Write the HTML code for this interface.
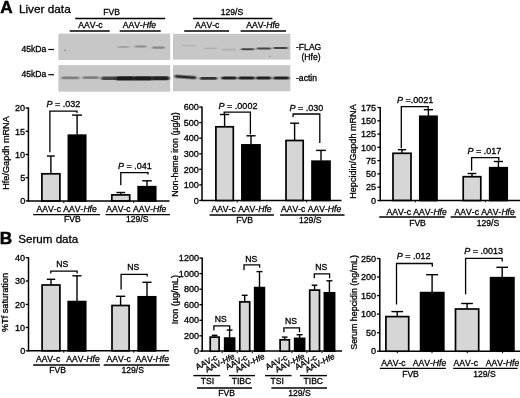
<!DOCTYPE html>
<html><head><meta charset="utf-8"><title>Figure</title>
<style>
html,body{margin:0;padding:0;background:#fff;}
svg{display:block;font-family:"Liberation Sans",Arial,Helvetica,sans-serif;fill:#000;}
text{stroke:#000;stroke-width:0.3px;font-kerning:none;}
</style></head>
<body>
<svg width="520" height="398" viewBox="0 0 520 398">
<defs>
<filter id="b1" x="-50%" y="-100%" width="200%" height="300%"><feGaussianBlur stdDeviation="0.6"/></filter>
<filter id="b2" x="-20%" y="-150%" width="140%" height="400%"><feGaussianBlur stdDeviation="1.1 0.75"/></filter>
</defs>
<rect x="0" y="0" width="520" height="398" fill="#fff"/>
<text x="0.2" y="13.1" font-size="17.2" font-weight="bold" style="stroke-width:0.5px">A</text>
<text x="18.9" y="12.8" font-size="11.8">Liver data</text>
<text x="-0.3" y="243.6" font-size="17.2" font-weight="bold" style="stroke-width:0.5px">B</text>
<text x="18.3" y="243.4" font-size="11.6">Serum data</text>
<text x="111.6" y="15.1" text-anchor="middle" font-size="8.6" >FVB</text>
<line x1="75.2" y1="18.4" x2="165.2" y2="18.4" stroke="#000" stroke-width="1.5"/>
<text x="90.5" y="27.7" text-anchor="middle" font-size="8.6" >AAV-c</text>
<text x="139.4" y="27.7" text-anchor="middle" font-size="8.6" >AAV-<tspan font-style="italic">Hfe</tspan></text>
<line x1="69.7" y1="30.9" x2="109.7" y2="30.9" stroke="#000" stroke-width="1.5"/>
<line x1="119.7" y1="30.9" x2="160.7" y2="30.9" stroke="#000" stroke-width="1.5"/>
<text x="232.0" y="15.1" text-anchor="middle" font-size="8.6" >129/S</text>
<line x1="193.0" y1="18.4" x2="272.4" y2="18.4" stroke="#000" stroke-width="1.5"/>
<text x="207.2" y="27.7" text-anchor="middle" font-size="8.6" >AAV-c</text>
<text x="262.9" y="27.7" text-anchor="middle" font-size="8.6" >AAV-<tspan font-style="italic">Hfe</tspan></text>
<line x1="184.2" y1="30.9" x2="229.0" y2="30.9" stroke="#000" stroke-width="1.5"/>
<line x1="240.6" y1="30.9" x2="286.0" y2="30.9" stroke="#000" stroke-width="1.5"/>
<text x="21.4" y="51.6" text-anchor="start" font-size="8.6" >45kDa</text>
<text x="21.4" y="76.8" text-anchor="start" font-size="8.6" >45kDa</text>
<line x1="48.3" y1="49.5" x2="54.0" y2="49.5" stroke="#000" stroke-width="1.2"/>
<line x1="48.3" y1="74.7" x2="54.0" y2="74.7" stroke="#000" stroke-width="1.2"/>
<text x="296.0" y="49.6" text-anchor="start" font-size="8.6" >-FLAG</text>
<text x="301.5" y="59.7" text-anchor="start" font-size="8.6" >(Hfe)</text>
<text x="296.0" y="80.6" text-anchor="start" font-size="8.6" >-actin</text>
<rect x="58.4" y="33.6" width="111.8" height="26.4" fill="#c7c7c7"/>
<rect x="58.4" y="65.1" width="111.8" height="26.6" fill="#c7c7c7"/>
<rect x="173" y="33.8" width="117.3" height="25.8" fill="#c7c7c7"/>
<rect x="173" y="65.1" width="117.3" height="26.2" fill="#c7c7c7"/>
<rect x="117.5" y="46.0" width="11.5" height="1.8" rx="0.9" fill="#8a8a8a" opacity="0.65" filter="url(#b2)"/>
<rect x="134.8" y="45.6" width="11.6" height="2.0" rx="1.0" fill="#777" opacity="0.75" filter="url(#b2)"/>
<rect x="152.0" y="46.5" width="12.8" height="2.2" rx="1.1" fill="#777" opacity="0.8" filter="url(#b2)"/>
<circle cx="65.2" cy="50.3" r="0.9" fill="#888" filter="url(#b1)"/>
<rect x="61.5" y="76.5" width="18.0" height="2.8" rx="1.4" fill="#7c7c7c" opacity="0.95" filter="url(#b2)"/>
<rect x="82.5" y="76.3" width="16.5" height="2.8" rx="1.4" fill="#7c7c7c" opacity="0.95" filter="url(#b2)"/>
<rect x="101.0" y="76.5" width="16.5" height="3.6" rx="1.8" fill="#454545" opacity="1" filter="url(#b2)"/>
<rect x="115.5" y="76.2" width="19.5" height="4.4" rx="2.2" fill="#1e1e1e" opacity="1" filter="url(#b2)"/>
<rect x="133.0" y="76.2" width="20.0" height="4.4" rx="2.2" fill="#1e1e1e" opacity="1" filter="url(#b2)"/>
<rect x="151.0" y="76.2" width="18.4" height="4.0" rx="2.0" fill="#222" opacity="1" filter="url(#b2)"/>
<rect x="182.0" y="44.8" width="14.0" height="1.6" rx="0.8" fill="#aaa" opacity="0.6" filter="url(#b2)"/>
<rect x="204.0" y="47.6" width="13.0" height="1.6" rx="0.8" fill="#a8a8a8" opacity="0.7" filter="url(#b2)"/>
<rect x="222.0" y="48.8" width="14.0" height="1.6" rx="0.8" fill="#a8a8a8" opacity="0.7" filter="url(#b2)"/>
<rect x="241.0" y="48.2" width="13.2" height="2.0" rx="1.0" fill="#444" opacity="1" filter="url(#b2)"/>
<rect x="256.6" y="47.4" width="14.4" height="2.0" rx="1.0" fill="#444" opacity="1" filter="url(#b2)"/>
<rect x="273.4" y="47.0" width="14.4" height="2.0" rx="1.0" fill="#444" opacity="1" filter="url(#b2)"/>
<circle cx="270" cy="56.5" r="0.8" fill="#999" filter="url(#b1)"/>
<g transform="rotate(4 185 77)">
<rect x="174.6" y="75.6" width="21.8" height="2.8" rx="1.4" fill="#282828" opacity="1" filter="url(#b2)"/>
</g>
<rect x="199.8" y="77.0" width="17.4" height="2.8" rx="1.4" fill="#333" opacity="1" filter="url(#b2)"/>
<rect x="221.2" y="76.4" width="15.6" height="3.2" rx="1.6" fill="#242424" opacity="1" filter="url(#b2)"/>
<rect x="238.2" y="76.4" width="16.6" height="3.2" rx="1.6" fill="#242424" opacity="1" filter="url(#b2)"/>
<rect x="255.8" y="76.4" width="15.6" height="3.2" rx="1.6" fill="#242424" opacity="1" filter="url(#b2)"/>
<rect x="273.2" y="76.4" width="16.2" height="3.2" rx="1.6" fill="#242424" opacity="1" filter="url(#b2)"/>
<line x1="28.4" y1="107.4" x2="28.4" y2="201.6" stroke="#000" stroke-width="1.5"/>
<line x1="27.7" y1="200.9" x2="169.5" y2="200.9" stroke="#000" stroke-width="1.5"/>
<line x1="25.6" y1="108.0" x2="28.4" y2="108.0" stroke="#000" stroke-width="1.3"/>
<text x="25.2" y="111.2" text-anchor="end" font-size="9.1" >20</text>
<line x1="25.6" y1="131.3" x2="28.4" y2="131.3" stroke="#000" stroke-width="1.3"/>
<text x="25.2" y="134.5" text-anchor="end" font-size="9.1" >15</text>
<line x1="25.6" y1="154.5" x2="28.4" y2="154.5" stroke="#000" stroke-width="1.3"/>
<text x="25.2" y="157.7" text-anchor="end" font-size="9.1" >10</text>
<line x1="25.6" y1="177.7" x2="28.4" y2="177.7" stroke="#000" stroke-width="1.3"/>
<text x="25.2" y="180.8" text-anchor="end" font-size="9.1" >5</text>
<line x1="25.6" y1="200.9" x2="28.4" y2="200.9" stroke="#000" stroke-width="1.3"/>
<text x="25.2" y="204.1" text-anchor="end" font-size="9.1" >0</text>
<line x1="50.9" y1="156.0" x2="50.9" y2="173.5" stroke="#000" stroke-width="1.4"/>
<line x1="47.0" y1="156.0" x2="54.8" y2="156.0" stroke="#000" stroke-width="1.4"/>
<rect x="41.9" y="173.8" width="18.0" height="27.1" fill="#d6d6d6" stroke="#000" stroke-width="1.7"/>
<line x1="77.1" y1="115.1" x2="77.1" y2="134.8" stroke="#000" stroke-width="1.4"/>
<line x1="72.1" y1="115.1" x2="82.1" y2="115.1" stroke="#000" stroke-width="1.4"/>
<rect x="68.4" y="135.2" width="17.3" height="65.8" fill="#000" stroke="#000" stroke-width="1.7"/>
<line x1="120.8" y1="192.5" x2="120.8" y2="194.6" stroke="#000" stroke-width="1.4"/>
<line x1="116.4" y1="192.5" x2="125.2" y2="192.5" stroke="#000" stroke-width="1.4"/>
<rect x="111.8" y="194.9" width="17.9" height="6.0" fill="#d6d6d6" stroke="#000" stroke-width="1.7"/>
<line x1="147.0" y1="180.8" x2="147.0" y2="186.3" stroke="#000" stroke-width="1.4"/>
<line x1="142.2" y1="180.8" x2="151.8" y2="180.8" stroke="#000" stroke-width="1.4"/>
<rect x="138.2" y="186.7" width="17.5" height="14.2" fill="#000" stroke="#000" stroke-width="1.7"/>
<polyline points="49.9,152.3 49.9,111.1 77.0,111.1 77.0,112.9" fill="none" stroke="#000" stroke-width="1.3"/>
<polyline points="120.8,185.2 120.8,172.7 148.0,172.7 148.0,174.6" fill="none" stroke="#000" stroke-width="1.3"/>
<text x="63.4" y="107.1" text-anchor="middle" font-size="8.6" ><tspan font-style="italic" font-size="9.0">P</tspan><tspan font-size="9.0"> = .032</tspan></text>
<text x="134.8" y="168.7" text-anchor="middle" font-size="8.6" ><tspan font-style="italic" font-size="9.0">P</tspan><tspan font-size="9.0"> = .041</tspan></text>
<text x="66.7" y="211.7" text-anchor="middle" font-size="8.6" >AAV-c AAV-<tspan font-style="italic">Hfe</tspan></text>
<text x="136.3" y="211.7" text-anchor="middle" font-size="8.6" >AAV-c AAV-<tspan font-style="italic">Hfe</tspan></text>
<line x1="33.2" y1="214.6" x2="100.0" y2="214.6" stroke="#000" stroke-width="1.4"/>
<line x1="105.5" y1="214.6" x2="170.0" y2="214.6" stroke="#000" stroke-width="1.4"/>
<text x="72.4" y="222.4" text-anchor="middle" font-size="8.6" >FVB</text>
<text x="137.3" y="222.2" text-anchor="middle" font-size="8.6" >129/S</text>
<line x1="63.8" y1="201.0" x2="63.8" y2="203.0" stroke="#000" stroke-width="1"/>
<line x1="133.8" y1="201.0" x2="133.8" y2="203.0" stroke="#000" stroke-width="1"/>
<text transform="translate(8.8,153.0) rotate(-90)" text-anchor="middle" font-size="9.15">Hfe/Gapdh mRNA</text>
<line x1="202.0" y1="106.5" x2="202.0" y2="201.1" stroke="#000" stroke-width="1.5"/>
<line x1="201.3" y1="200.4" x2="341.5" y2="200.4" stroke="#000" stroke-width="1.5"/>
<line x1="199.2" y1="107.1" x2="202.0" y2="107.1" stroke="#000" stroke-width="1.3"/>
<text x="198.9" y="110.2" text-anchor="end" font-size="9.1" >600</text>
<line x1="199.2" y1="122.6" x2="202.0" y2="122.6" stroke="#000" stroke-width="1.3"/>
<text x="198.9" y="125.8" text-anchor="end" font-size="9.1" >500</text>
<line x1="199.2" y1="138.2" x2="202.0" y2="138.2" stroke="#000" stroke-width="1.3"/>
<text x="198.9" y="141.3" text-anchor="end" font-size="9.1" >400</text>
<line x1="199.2" y1="153.8" x2="202.0" y2="153.8" stroke="#000" stroke-width="1.3"/>
<text x="198.9" y="157.0" text-anchor="end" font-size="9.1" >300</text>
<line x1="199.2" y1="169.3" x2="202.0" y2="169.3" stroke="#000" stroke-width="1.3"/>
<text x="198.9" y="172.5" text-anchor="end" font-size="9.1" >200</text>
<line x1="199.2" y1="184.9" x2="202.0" y2="184.9" stroke="#000" stroke-width="1.3"/>
<text x="198.9" y="188.1" text-anchor="end" font-size="9.1" >100</text>
<line x1="199.2" y1="200.4" x2="202.0" y2="200.4" stroke="#000" stroke-width="1.3"/>
<text x="198.9" y="203.6" text-anchor="end" font-size="9.1" >0</text>
<line x1="224.6" y1="114.5" x2="224.6" y2="126.4" stroke="#000" stroke-width="1.4"/>
<line x1="219.9" y1="114.5" x2="229.3" y2="114.5" stroke="#000" stroke-width="1.4"/>
<rect x="215.9" y="126.8" width="17.4" height="73.7" fill="#d6d6d6" stroke="#000" stroke-width="1.7"/>
<line x1="251.0" y1="135.8" x2="251.0" y2="144.6" stroke="#000" stroke-width="1.4"/>
<line x1="246.4" y1="135.8" x2="255.6" y2="135.8" stroke="#000" stroke-width="1.4"/>
<rect x="241.9" y="144.9" width="18.1" height="55.5" fill="#000" stroke="#000" stroke-width="1.7"/>
<line x1="294.6" y1="123.2" x2="294.6" y2="140.2" stroke="#000" stroke-width="1.4"/>
<line x1="290.1" y1="123.2" x2="299.1" y2="123.2" stroke="#000" stroke-width="1.4"/>
<rect x="286.0" y="140.5" width="17.2" height="59.9" fill="#d6d6d6" stroke="#000" stroke-width="1.7"/>
<line x1="321.0" y1="150.4" x2="321.0" y2="160.8" stroke="#000" stroke-width="1.4"/>
<line x1="316.1" y1="150.4" x2="325.9" y2="150.4" stroke="#000" stroke-width="1.4"/>
<rect x="312.0" y="161.2" width="18.0" height="39.2" fill="#000" stroke="#000" stroke-width="1.7"/>
<polyline points="224.2,113.9 224.2,112.1 250.4,112.1 250.4,134.2" fill="none" stroke="#000" stroke-width="1.3"/>
<polyline points="293.1,117.0 293.1,114.0 319.8,114.0 319.8,142.9" fill="none" stroke="#000" stroke-width="1.3"/>
<text x="238.0" y="108.7" text-anchor="middle" font-size="8.6" ><tspan font-style="italic" font-size="9.0">P</tspan><tspan font-size="9.0"> = .0002</tspan></text>
<text x="306.3" y="110.7" text-anchor="middle" font-size="8.6" ><tspan font-style="italic" font-size="9.0">P</tspan><tspan font-size="9.0"> = .030</tspan></text>
<text x="241.5" y="212.3" text-anchor="middle" font-size="8.6" >AAV-c AAV-<tspan font-style="italic">Hfe</tspan></text>
<text x="311.1" y="212.3" text-anchor="middle" font-size="8.6" >AAV-c AAV-<tspan font-style="italic">Hfe</tspan></text>
<line x1="209.5" y1="215.0" x2="273.9" y2="215.0" stroke="#000" stroke-width="1.4"/>
<line x1="280.1" y1="215.0" x2="344.5" y2="215.0" stroke="#000" stroke-width="1.4"/>
<text x="244.7" y="223.0" text-anchor="middle" font-size="8.6" >FVB</text>
<text x="310.3" y="223.0" text-anchor="middle" font-size="8.6" >129/S</text>
<line x1="237.2" y1="200.5" x2="237.2" y2="202.5" stroke="#000" stroke-width="1"/>
<line x1="306.7" y1="200.5" x2="306.7" y2="202.5" stroke="#000" stroke-width="1"/>
<text transform="translate(177.6,154.5) rotate(-90)" text-anchor="middle" font-size="8.9">Non-heme iron (µg/g)</text>
<line x1="380.2" y1="106.9" x2="380.2" y2="201.2" stroke="#000" stroke-width="1.5"/>
<line x1="379.5" y1="200.5" x2="520.0" y2="200.5" stroke="#000" stroke-width="1.5"/>
<line x1="377.4" y1="107.5" x2="380.2" y2="107.5" stroke="#000" stroke-width="1.3"/>
<text x="376.1" y="110.7" text-anchor="end" font-size="9.1" >175</text>
<line x1="377.4" y1="120.8" x2="380.2" y2="120.8" stroke="#000" stroke-width="1.3"/>
<text x="376.1" y="124.0" text-anchor="end" font-size="9.1" >150</text>
<line x1="377.4" y1="134.1" x2="380.2" y2="134.1" stroke="#000" stroke-width="1.3"/>
<text x="376.1" y="137.2" text-anchor="end" font-size="9.1" >125</text>
<line x1="377.4" y1="147.3" x2="380.2" y2="147.3" stroke="#000" stroke-width="1.3"/>
<text x="376.1" y="150.5" text-anchor="end" font-size="9.1" >100</text>
<line x1="377.4" y1="160.6" x2="380.2" y2="160.6" stroke="#000" stroke-width="1.3"/>
<text x="376.1" y="163.8" text-anchor="end" font-size="9.1" >75</text>
<line x1="377.4" y1="173.9" x2="380.2" y2="173.9" stroke="#000" stroke-width="1.3"/>
<text x="376.1" y="177.1" text-anchor="end" font-size="9.1" >50</text>
<line x1="377.4" y1="187.2" x2="380.2" y2="187.2" stroke="#000" stroke-width="1.3"/>
<text x="376.1" y="190.3" text-anchor="end" font-size="9.1" >25</text>
<line x1="377.4" y1="200.5" x2="380.2" y2="200.5" stroke="#000" stroke-width="1.3"/>
<text x="376.1" y="203.7" text-anchor="end" font-size="9.1" >0</text>
<line x1="402.0" y1="149.7" x2="402.0" y2="153.0" stroke="#000" stroke-width="1.4"/>
<line x1="397.9" y1="149.7" x2="406.1" y2="149.7" stroke="#000" stroke-width="1.4"/>
<rect x="393.0" y="153.3" width="18.0" height="47.1" fill="#d6d6d6" stroke="#000" stroke-width="1.7"/>
<line x1="428.4" y1="109.7" x2="428.4" y2="116.0" stroke="#000" stroke-width="1.4"/>
<line x1="423.8" y1="109.7" x2="433.0" y2="109.7" stroke="#000" stroke-width="1.4"/>
<rect x="419.8" y="116.3" width="17.2" height="84.2" fill="#000" stroke="#000" stroke-width="1.7"/>
<line x1="472.0" y1="173.5" x2="472.0" y2="176.3" stroke="#000" stroke-width="1.4"/>
<line x1="467.6" y1="173.5" x2="476.4" y2="173.5" stroke="#000" stroke-width="1.4"/>
<rect x="463.2" y="176.7" width="17.6" height="23.8" fill="#d6d6d6" stroke="#000" stroke-width="1.7"/>
<line x1="498.4" y1="161.5" x2="498.4" y2="167.3" stroke="#000" stroke-width="1.4"/>
<line x1="493.8" y1="161.5" x2="503.0" y2="161.5" stroke="#000" stroke-width="1.4"/>
<rect x="489.7" y="167.7" width="17.5" height="32.8" fill="#000" stroke="#000" stroke-width="1.7"/>
<polyline points="401.3,148.3 401.3,106.7 428.2,106.7 428.2,109.1" fill="none" stroke="#000" stroke-width="1.3"/>
<polyline points="471.6,170.8 471.6,157.7 498.8,157.7 498.8,160.8" fill="none" stroke="#000" stroke-width="1.3"/>
<text x="415.2" y="102.6" text-anchor="middle" font-size="8.6" ><tspan font-style="italic" font-size="9.0">P</tspan><tspan font-size="9.0"> =.0021</tspan></text>
<text x="484.3" y="153.8" text-anchor="middle" font-size="8.6" ><tspan font-style="italic" font-size="9.0">P</tspan><tspan font-size="9.0"> = .017</tspan></text>
<text x="416.7" y="214.8" text-anchor="middle" font-size="8.6" >AAV-c AAV-<tspan font-style="italic">Hfe</tspan></text>
<text x="484.7" y="214.8" text-anchor="middle" font-size="8.6" >AAV-c AAV-<tspan font-style="italic">Hfe</tspan></text>
<line x1="379.2" y1="217.0" x2="444.8" y2="217.0" stroke="#000" stroke-width="1.4"/>
<line x1="450.6" y1="217.0" x2="516.0" y2="217.0" stroke="#000" stroke-width="1.4"/>
<text x="417.5" y="225.8" text-anchor="middle" font-size="8.6" >FVB</text>
<text x="488.0" y="225.8" text-anchor="middle" font-size="8.6" >129/S</text>
<line x1="415.4" y1="200.3" x2="415.4" y2="202.3" stroke="#000" stroke-width="1"/>
<line x1="485.4" y1="200.3" x2="485.4" y2="202.3" stroke="#000" stroke-width="1"/>
<text transform="translate(355.7,151.5) rotate(-90)" text-anchor="middle" font-size="9.1">Hepcidin/Gapdh mRNA</text>
<line x1="28.5" y1="257.1" x2="28.5" y2="351.5" stroke="#000" stroke-width="1.5"/>
<line x1="27.8" y1="350.8" x2="168.9" y2="350.8" stroke="#000" stroke-width="1.5"/>
<line x1="25.7" y1="257.7" x2="28.5" y2="257.7" stroke="#000" stroke-width="1.3"/>
<text x="25.2" y="260.8" text-anchor="end" font-size="9.1" >40</text>
<line x1="25.7" y1="281.0" x2="28.5" y2="281.0" stroke="#000" stroke-width="1.3"/>
<text x="25.2" y="284.1" text-anchor="end" font-size="9.1" >30</text>
<line x1="25.7" y1="304.4" x2="28.5" y2="304.4" stroke="#000" stroke-width="1.3"/>
<text x="25.2" y="307.5" text-anchor="end" font-size="9.1" >20</text>
<line x1="25.7" y1="327.5" x2="28.5" y2="327.5" stroke="#000" stroke-width="1.3"/>
<text x="25.2" y="330.6" text-anchor="end" font-size="9.1" >10</text>
<line x1="25.7" y1="350.8" x2="28.5" y2="350.8" stroke="#000" stroke-width="1.3"/>
<text x="25.2" y="353.9" text-anchor="end" font-size="9.1" >0</text>
<line x1="51.0" y1="279.3" x2="51.0" y2="284.6" stroke="#000" stroke-width="1.4"/>
<line x1="46.8" y1="279.3" x2="55.2" y2="279.3" stroke="#000" stroke-width="1.4"/>
<rect x="42.1" y="285.0" width="17.8" height="65.8" fill="#d6d6d6" stroke="#000" stroke-width="1.7"/>
<line x1="77.0" y1="275.8" x2="77.0" y2="301.2" stroke="#000" stroke-width="1.4"/>
<line x1="72.4" y1="275.8" x2="81.6" y2="275.8" stroke="#000" stroke-width="1.4"/>
<rect x="68.2" y="301.6" width="17.5" height="49.3" fill="#000" stroke="#000" stroke-width="1.7"/>
<line x1="120.6" y1="296.3" x2="120.6" y2="305.1" stroke="#000" stroke-width="1.4"/>
<line x1="116.0" y1="296.3" x2="125.2" y2="296.3" stroke="#000" stroke-width="1.4"/>
<rect x="112.0" y="305.5" width="17.1" height="45.3" fill="#d6d6d6" stroke="#000" stroke-width="1.7"/>
<line x1="147.0" y1="282.3" x2="147.0" y2="296.4" stroke="#000" stroke-width="1.4"/>
<line x1="142.4" y1="282.3" x2="151.6" y2="282.3" stroke="#000" stroke-width="1.4"/>
<rect x="138.2" y="296.8" width="17.5" height="54.1" fill="#000" stroke="#000" stroke-width="1.7"/>
<polyline points="50.8,273.6 50.8,271.2 77.1,271.2 77.1,273.6" fill="none" stroke="#000" stroke-width="1.3"/>
<polyline points="121.1,289.4 121.1,274.4 147.1,274.4 147.1,276.5" fill="none" stroke="#000" stroke-width="1.3"/>
<text x="62.2" y="267.0" text-anchor="middle" font-size="8.6" >NS</text>
<text x="133.2" y="270.0" text-anchor="middle" font-size="8.6" >NS</text>
<text x="48.1" y="362.4" text-anchor="middle" font-size="8.6" >AAV-c</text>
<text x="83.0" y="362.4" text-anchor="middle" font-size="8.6" >AAV-<tspan font-style="italic">Hfe</tspan></text>
<text x="118.7" y="362.4" text-anchor="middle" font-size="8.6" >AAV-c</text>
<text x="152.2" y="362.4" text-anchor="middle" font-size="8.6" >AAV-<tspan font-style="italic">Hfe</tspan></text>
<line x1="33.2" y1="365.0" x2="100.0" y2="365.0" stroke="#000" stroke-width="1.4"/>
<line x1="103.7" y1="365.0" x2="169.5" y2="365.0" stroke="#000" stroke-width="1.4"/>
<text x="57.7" y="373.0" text-anchor="middle" font-size="8.6" >FVB</text>
<text x="132.7" y="372.8" text-anchor="middle" font-size="8.6" >129/S</text>
<line x1="63.8" y1="350.7" x2="63.8" y2="352.7" stroke="#000" stroke-width="1"/>
<line x1="133.8" y1="350.7" x2="133.8" y2="352.7" stroke="#000" stroke-width="1"/>
<text transform="translate(8.1,302.5) rotate(-90)" text-anchor="middle" font-size="9.2">%Tf saturation</text>
<line x1="202.2" y1="257.5" x2="202.2" y2="351.8" stroke="#000" stroke-width="1.5"/>
<line x1="201.5" y1="351.1" x2="342.1" y2="351.1" stroke="#000" stroke-width="1.5"/>
<line x1="199.4" y1="258.1" x2="202.2" y2="258.1" stroke="#000" stroke-width="1.3"/>
<text x="199.1" y="261.2" text-anchor="end" font-size="9.1" >1200</text>
<line x1="199.4" y1="273.6" x2="202.2" y2="273.6" stroke="#000" stroke-width="1.3"/>
<text x="199.1" y="276.8" text-anchor="end" font-size="9.1" >1000</text>
<line x1="199.4" y1="289.2" x2="202.2" y2="289.2" stroke="#000" stroke-width="1.3"/>
<text x="199.1" y="292.3" text-anchor="end" font-size="9.1" >800</text>
<line x1="199.4" y1="304.7" x2="202.2" y2="304.7" stroke="#000" stroke-width="1.3"/>
<text x="199.1" y="307.8" text-anchor="end" font-size="9.1" >600</text>
<line x1="199.4" y1="320.3" x2="202.2" y2="320.3" stroke="#000" stroke-width="1.3"/>
<text x="199.1" y="323.4" text-anchor="end" font-size="9.1" >400</text>
<line x1="199.4" y1="335.8" x2="202.2" y2="335.8" stroke="#000" stroke-width="1.3"/>
<text x="199.1" y="338.9" text-anchor="end" font-size="9.1" >200</text>
<line x1="199.4" y1="351.1" x2="202.2" y2="351.1" stroke="#000" stroke-width="1.3"/>
<text x="199.1" y="354.2" text-anchor="end" font-size="9.1" >0</text>
<line x1="214.6" y1="335.3" x2="214.6" y2="336.7" stroke="#000" stroke-width="1.4"/>
<line x1="211.8" y1="335.3" x2="217.4" y2="335.3" stroke="#000" stroke-width="1.4"/>
<rect x="210.2" y="337.1" width="8.9" height="14.1" fill="#d6d6d6" stroke="#000" stroke-width="1.7"/>
<line x1="229.6" y1="330.1" x2="229.6" y2="337.7" stroke="#000" stroke-width="1.4"/>
<line x1="226.7" y1="330.1" x2="232.5" y2="330.1" stroke="#000" stroke-width="1.4"/>
<rect x="224.7" y="338.1" width="9.9" height="13.1" fill="#000" stroke="#000" stroke-width="1.7"/>
<line x1="244.7" y1="295.3" x2="244.7" y2="301.5" stroke="#000" stroke-width="1.4"/>
<line x1="241.8" y1="295.3" x2="247.6" y2="295.3" stroke="#000" stroke-width="1.4"/>
<rect x="239.8" y="301.9" width="9.9" height="49.3" fill="#d6d6d6" stroke="#000" stroke-width="1.7"/>
<line x1="259.5" y1="271.6" x2="259.5" y2="287.2" stroke="#000" stroke-width="1.4"/>
<line x1="256.5" y1="271.6" x2="262.5" y2="271.6" stroke="#000" stroke-width="1.4"/>
<rect x="254.7" y="287.6" width="9.7" height="63.6" fill="#000" stroke="#000" stroke-width="1.7"/>
<line x1="284.7" y1="337.1" x2="284.7" y2="339.4" stroke="#000" stroke-width="1.4"/>
<line x1="281.9" y1="337.1" x2="287.5" y2="337.1" stroke="#000" stroke-width="1.4"/>
<rect x="280.1" y="339.8" width="9.3" height="11.4" fill="#d6d6d6" stroke="#000" stroke-width="1.7"/>
<line x1="299.6" y1="334.7" x2="299.6" y2="338.0" stroke="#000" stroke-width="1.4"/>
<line x1="296.6" y1="334.7" x2="302.6" y2="334.7" stroke="#000" stroke-width="1.4"/>
<rect x="294.7" y="338.4" width="9.9" height="12.8" fill="#000" stroke="#000" stroke-width="1.7"/>
<line x1="314.6" y1="285.2" x2="314.6" y2="289.7" stroke="#000" stroke-width="1.4"/>
<line x1="311.7" y1="285.2" x2="317.4" y2="285.2" stroke="#000" stroke-width="1.4"/>
<rect x="309.7" y="290.1" width="9.8" height="61.1" fill="#d6d6d6" stroke="#000" stroke-width="1.7"/>
<line x1="329.4" y1="280.8" x2="329.4" y2="292.4" stroke="#000" stroke-width="1.4"/>
<line x1="326.4" y1="280.8" x2="332.4" y2="280.8" stroke="#000" stroke-width="1.4"/>
<rect x="324.4" y="292.8" width="10.2" height="58.4" fill="#000" stroke="#000" stroke-width="1.7"/>
<polyline points="213.9,330.6 213.9,325.8 229.7,325.8 229.7,330.2" fill="none" stroke="#000" stroke-width="1.3"/>
<polyline points="244.0,270.2 244.0,264.9 259.6,264.9 259.6,267.8" fill="none" stroke="#000" stroke-width="1.3"/>
<polyline points="283.9,332.2 283.9,327.8 299.5,327.8 299.5,332.2" fill="none" stroke="#000" stroke-width="1.3"/>
<polyline points="314.3,278.2 314.3,273.8 329.6,273.8 329.6,278.2" fill="none" stroke="#000" stroke-width="1.3"/>
<text x="220.8" y="322.0" text-anchor="middle" font-size="8.6" >NS</text>
<text x="251.2" y="261.5" text-anchor="middle" font-size="8.6" >NS</text>
<text x="290.9" y="323.9" text-anchor="middle" font-size="8.6" >NS</text>
<text x="321.2" y="270.3" text-anchor="middle" font-size="8.6" >NS</text>
<text transform="translate(218.0,359.5) rotate(-27)" text-anchor="end" font-size="8.2">AAV-c</text>
<text transform="translate(235.3,358.2) rotate(-27)" text-anchor="end" font-size="8.2">AAV-<tspan font-style="italic">Hfe</tspan></text>
<text transform="translate(248.0,359.5) rotate(-27)" text-anchor="end" font-size="8.2">AAV-c</text>
<text transform="translate(265.3,358.2) rotate(-27)" text-anchor="end" font-size="8.2">AAV-<tspan font-style="italic">Hfe</tspan></text>
<text transform="translate(287.9,359.5) rotate(-27)" text-anchor="end" font-size="8.2">AAV-c</text>
<text transform="translate(305.3,358.2) rotate(-27)" text-anchor="end" font-size="8.2">AAV-<tspan font-style="italic">Hfe</tspan></text>
<text transform="translate(317.5,359.5) rotate(-27)" text-anchor="end" font-size="8.2">AAV-c</text>
<text transform="translate(335.3,358.2) rotate(-27)" text-anchor="end" font-size="8.2">AAV-<tspan font-style="italic">Hfe</tspan></text>
<line x1="193.4" y1="375.6" x2="220.2" y2="375.6" stroke="#000" stroke-width="1.4"/>
<line x1="229.0" y1="375.6" x2="255.0" y2="375.6" stroke="#000" stroke-width="1.4"/>
<line x1="265.0" y1="375.6" x2="291.5" y2="375.6" stroke="#000" stroke-width="1.4"/>
<line x1="300.0" y1="375.6" x2="327.0" y2="375.6" stroke="#000" stroke-width="1.4"/>
<text x="207.5" y="384.0" text-anchor="middle" font-size="8.6" >TSI</text>
<text x="241.5" y="384.0" text-anchor="middle" font-size="8.6" >TIBC</text>
<text x="277.1" y="384.0" text-anchor="middle" font-size="8.6" >TSI</text>
<text x="313.3" y="384.0" text-anchor="middle" font-size="8.6" >TIBC</text>
<line x1="197.0" y1="388.0" x2="252.0" y2="388.0" stroke="#000" stroke-width="1.4"/>
<line x1="271.4" y1="388.0" x2="327.0" y2="388.0" stroke="#000" stroke-width="1.4"/>
<text x="226.6" y="396.0" text-anchor="middle" font-size="8.6" >FVB</text>
<text x="299.4" y="396.4" text-anchor="middle" font-size="8.6" >129/S</text>
<line x1="222.2" y1="351.4" x2="222.2" y2="353.2" stroke="#000" stroke-width="1"/>
<line x1="237.2" y1="351.4" x2="237.2" y2="353.2" stroke="#000" stroke-width="1"/>
<line x1="252.3" y1="351.4" x2="252.3" y2="353.2" stroke="#000" stroke-width="1"/>
<line x1="292.0" y1="351.4" x2="292.0" y2="353.2" stroke="#000" stroke-width="1"/>
<line x1="306.9" y1="351.4" x2="306.9" y2="353.2" stroke="#000" stroke-width="1"/>
<line x1="322.0" y1="351.4" x2="322.0" y2="353.2" stroke="#000" stroke-width="1"/>
<text transform="translate(177.5,299.6) rotate(-90)" text-anchor="middle" font-size="9">Iron (µg/mL)</text>
<line x1="379.8" y1="257.9" x2="379.8" y2="351.9" stroke="#000" stroke-width="1.5"/>
<line x1="379.1" y1="351.2" x2="520.0" y2="351.2" stroke="#000" stroke-width="1.5"/>
<line x1="377.0" y1="258.5" x2="379.8" y2="258.5" stroke="#000" stroke-width="1.3"/>
<text x="376.1" y="261.6" text-anchor="end" font-size="9.1" >250</text>
<line x1="377.0" y1="277.0" x2="379.8" y2="277.0" stroke="#000" stroke-width="1.3"/>
<text x="376.1" y="280.1" text-anchor="end" font-size="9.1" >200</text>
<line x1="377.0" y1="295.6" x2="379.8" y2="295.6" stroke="#000" stroke-width="1.3"/>
<text x="376.1" y="298.8" text-anchor="end" font-size="9.1" >150</text>
<line x1="377.0" y1="314.1" x2="379.8" y2="314.1" stroke="#000" stroke-width="1.3"/>
<text x="376.1" y="317.2" text-anchor="end" font-size="9.1" >100</text>
<line x1="377.0" y1="332.7" x2="379.8" y2="332.7" stroke="#000" stroke-width="1.3"/>
<text x="376.1" y="335.8" text-anchor="end" font-size="9.1" >50</text>
<line x1="377.0" y1="351.2" x2="379.8" y2="351.2" stroke="#000" stroke-width="1.3"/>
<text x="376.1" y="354.3" text-anchor="end" font-size="9.1" >0</text>
<line x1="397.2" y1="311.6" x2="397.2" y2="316.2" stroke="#000" stroke-width="1.4"/>
<line x1="391.4" y1="311.6" x2="403.1" y2="311.6" stroke="#000" stroke-width="1.4"/>
<rect x="385.9" y="316.6" width="22.8" height="34.6" fill="#d6d6d6" stroke="#000" stroke-width="1.7"/>
<line x1="432.1" y1="274.7" x2="432.1" y2="292.2" stroke="#000" stroke-width="1.4"/>
<line x1="426.1" y1="274.7" x2="438.1" y2="274.7" stroke="#000" stroke-width="1.4"/>
<rect x="420.6" y="292.6" width="23.2" height="58.6" fill="#000" stroke="#000" stroke-width="1.7"/>
<line x1="467.1" y1="303.5" x2="467.1" y2="308.6" stroke="#000" stroke-width="1.4"/>
<line x1="461.2" y1="303.5" x2="472.9" y2="303.5" stroke="#000" stroke-width="1.4"/>
<rect x="455.5" y="309.0" width="23.2" height="42.2" fill="#d6d6d6" stroke="#000" stroke-width="1.7"/>
<line x1="502.2" y1="267.3" x2="502.2" y2="277.3" stroke="#000" stroke-width="1.4"/>
<line x1="496.4" y1="267.3" x2="508.0" y2="267.3" stroke="#000" stroke-width="1.4"/>
<rect x="490.6" y="277.7" width="23.3" height="73.5" fill="#000" stroke="#000" stroke-width="1.7"/>
<polyline points="396.5,304.4 396.5,263.5 432.3,263.5 432.3,266.8" fill="none" stroke="#000" stroke-width="1.3"/>
<polyline points="465.6,294.3 465.6,258.3 502.2,258.3 502.2,261.6" fill="none" stroke="#000" stroke-width="1.3"/>
<text x="413.7" y="259.1" text-anchor="middle" font-size="8.6" ><tspan font-style="italic" font-size="9.0">P</tspan><tspan font-size="9.0"> = .012</tspan></text>
<text x="483.7" y="253.5" text-anchor="middle" font-size="8.6" ><tspan font-style="italic" font-size="9.0">P</tspan><tspan font-size="9.0"> = .0013</tspan></text>
<text x="393.5" y="366.0" text-anchor="middle" font-size="8.6" >AAV-c</text>
<text x="429.5" y="366.0" text-anchor="middle" font-size="8.6" >AAV-<tspan font-style="italic">Hfe</tspan></text>
<text x="465.8" y="366.0" text-anchor="middle" font-size="8.6" >AAV-c</text>
<text x="502.5" y="366.0" text-anchor="middle" font-size="8.6" >AAV-<tspan font-style="italic">Hfe</tspan></text>
<line x1="379.8" y1="368.4" x2="445.8" y2="368.4" stroke="#000" stroke-width="1.4"/>
<line x1="453.2" y1="368.4" x2="517.6" y2="368.4" stroke="#000" stroke-width="1.4"/>
<text x="410.5" y="376.8" text-anchor="middle" font-size="8.6" >FVB</text>
<text x="484.4" y="376.7" text-anchor="middle" font-size="8.6" >129/S</text>
<line x1="397.3" y1="351.3" x2="397.3" y2="353.2" stroke="#000" stroke-width="1"/>
<line x1="432.0" y1="351.3" x2="432.0" y2="353.2" stroke="#000" stroke-width="1"/>
<line x1="467.3" y1="351.3" x2="467.3" y2="353.2" stroke="#000" stroke-width="1"/>
<line x1="502.5" y1="351.3" x2="502.5" y2="353.2" stroke="#000" stroke-width="1"/>
<text transform="translate(357.1,302.4) rotate(-90)" text-anchor="middle" font-size="8.9">Serum hepcidin (ng/mL)</text>
</svg>
</body></html>
